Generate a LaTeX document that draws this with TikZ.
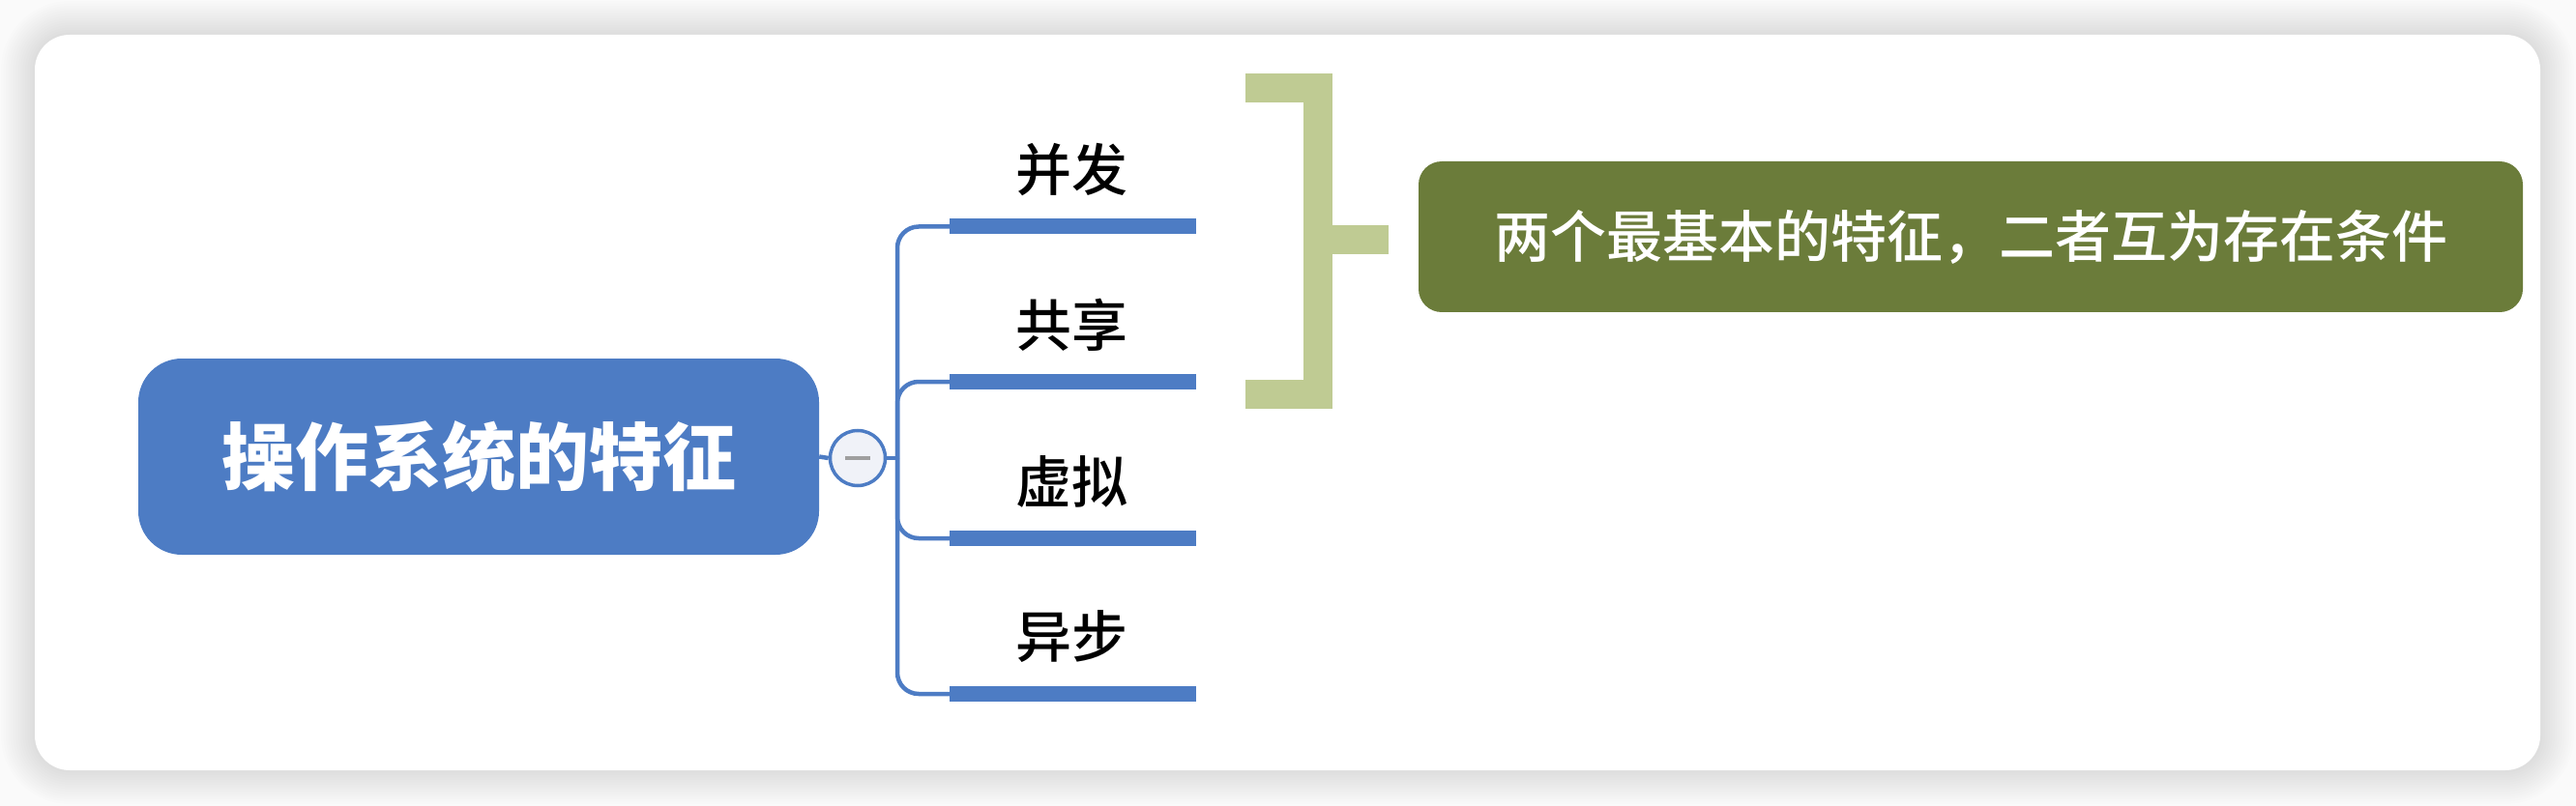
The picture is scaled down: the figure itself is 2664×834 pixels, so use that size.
\documentclass[tikz,border=0pt]{standalone}
\usepackage{fontspec}
\setmainfont{Noto Sans CJK SC}
\newfontfamily\medfont{Noto Sans CJK SC Medium}
\definecolor{mmblue}{HTML}{4D7CC4}
\definecolor{brkgreen}{HTML}{BFCB93}
\definecolor{olive}{HTML}{6B7C3A}
\definecolor{colfill}{HTML}{F0F2F8}
\begin{document}
\begin{tikzpicture}[x=1pt,y=-1pt,
  rootbox/.style={fill=mmblue, rounded corners=45pt, minimum width=704pt, minimum height=203pt,
    text=white, font=\fontsize{76}{80}\selectfont\bfseries, inner sep=0pt},
  collapse/.style={circle, draw=mmblue, line width=3.5pt, fill=colfill, minimum size=57pt, inner sep=0pt},
  conn/.style={draw=mmblue, line width=4.5pt},
  barline/.style={draw=mmblue, line width=16pt},
  topic/.style={text=black, font=\fontsize{58}{60}\selectfont\medfont, inner sep=0pt},
  bracket/.style={draw=brkgreen, line width=30pt, line join=miter},
  notebox/.style={fill=olive, rounded corners=24pt, minimum width=1142pt, minimum height=156pt,
    text=white, font=\fontsize{58}{60}\selectfont\medfont, inner sep=0pt}
]
\useasboundingbox (0,0) rectangle (2664,834);
\fill[black!2] (0,0) rectangle (2664,834);
\foreach \i [evaluate=\i as \d using 2.5*\i, evaluate=\i as \r using 36+2.5*\i] in {1,...,14}
  \fill[black, opacity=0.009, rounded corners=\r pt] ({36-\d},{36-\d}) rectangle ({2627+\d},{797+\d});
\fill[white, rounded corners=36pt] (36,36) rectangle (2627,797);

% root and collapse button
\node[rootbox] (root) at (495,472.5) {操作系统的特征};
\node[collapse] (col) at (887,474) {};
\draw[gray!75, line width=4pt] ([xshift=-13pt]col.center) -- ([xshift=13pt]col.center);
\draw[conn] (root.east) -- (col.west);
\coordinate (trunk) at (928,474);
\draw[conn] (col.east) -- (trunk);

% branches
\foreach \n/\y/\t in {1/234.5/并发, 2/395/共享, 3/557/虚拟, 4/718/异步}{
  \coordinate (b\n s) at (982,\y);
  \coordinate (b\n e) at (1237,\y);
  \draw[conn, rounded corners=22pt] (trunk) |- (b\n s);
  \draw[barline] (b\n s) -- (b\n e);
  \node[topic] (t\n) at (1108,{\y-59}) {\t};
}

% bracket and note
\node[notebox] (note) at (2038,245) {两个最基本的特征，二者互为存在条件};
\coordinate (bt) at (1288,91.5);
\coordinate (bb) at (1288,408);
\coordinate (bs) at (1362.5,248);
\draw[bracket] (bt) -- ++(74.5,0) |- (bb);
\draw[bracket] (bs) -- ([xshift=-31pt]note.west |- bs);
\end{tikzpicture}
\end{document}
